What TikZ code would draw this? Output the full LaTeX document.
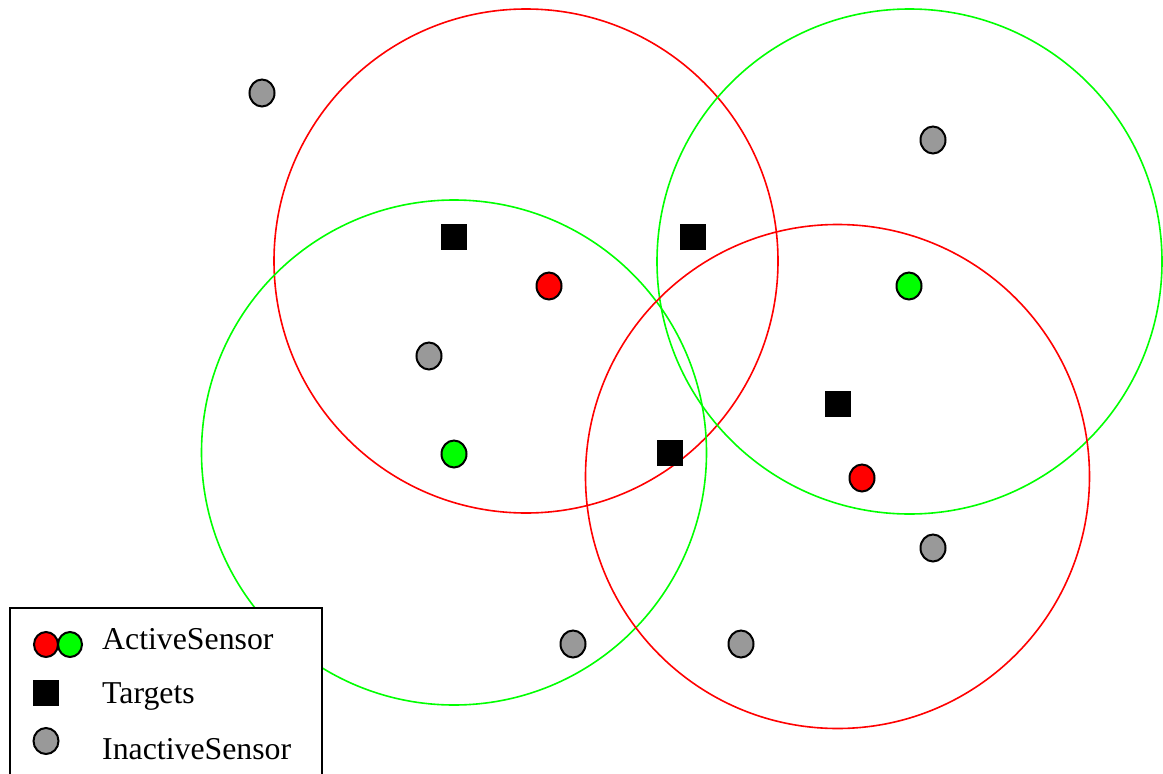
\documentclass[tikz,border=0pt]{standalone}
\usepackage{fontspec}
\setmainfont{Liberation Serif}
\usetikzlibrary{shapes.geometric}
\definecolor{sred}{RGB}{255,0,0}
\definecolor{sgreen}{RGB}{0,255,0}
\definecolor{sgray}{RGB}{153,153,153}
\begin{document}
\begin{tikzpicture}[x=1pt,y=-1pt,
  sensor/.style={ellipse,draw=black,line width=2pt,minimum width=25pt,minimum height=27pt,inner sep=0pt},
  target/.style={rectangle,fill=black,minimum size=26pt,inner sep=0pt},
  coverage/.style={line width=1.6pt},
  legtext/.style={anchor=base west,inner sep=0pt,font=\fontsize{31.8}{38}\selectfont}]
\useasboundingbox (0,0) rectangle (1163,774);
% coverage circles
\draw[coverage,sred] (526,261) circle (252);
\draw[coverage,sgreen] (909.5,261.5) circle (252.5);
\draw[coverage,sgreen] (454,452.5) circle (252.5);
\draw[coverage,sred] (837.5,476.5) circle (252);
% targets
\node[target] (t1) at (454,237) {};
\node[target] (t2) at (693,237) {};
\node[target] (t3) at (838,404) {};
\node[target] (t4) at (670,453) {};
% active sensors
\node[sensor,fill=sred] (a1) at (549,286) {};
\node[sensor,fill=sred] (a2) at (862,478) {};
\node[sensor,fill=sgreen] (a3) at (909,286) {};
\node[sensor,fill=sgreen] (a4) at (454,454) {};
% inactive sensors
\node[sensor,fill=sgray] (i1) at (262,93) {};
\node[sensor,fill=sgray] (i2) at (933,140) {};
\node[sensor,fill=sgray] (i3) at (429,356) {};
\node[sensor,fill=sgray] (i4) at (933,548) {};
\node[sensor,fill=sgray] (i5) at (573,644) {};
\node[sensor,fill=sgray] (i6) at (741,644) {};
% legend
\fill[white] (10,608) rectangle (322,780);
\draw[line width=2pt] (10,780) -- (10,608) -- (322,608) -- (322,780);
\node[sensor,fill=sred,minimum width=24pt,minimum height=25pt] (la) at (46,644.5) {};
\node[sensor,fill=sgreen,minimum width=24pt,minimum height=25pt] (lb) at (70,644.5) {};
\node[target] (lt) at (46,693) {};
\node[sensor,fill=sgray,minimum width=25pt,minimum height=26pt] (lg) at (46,741) {};
\node[legtext] (x1) at (102,649) {ActiveSensor};
\node[legtext] (x2) at (102,703) {Targets};
\node[legtext] (x3) at (102,759) {InactiveSensor};
\end{tikzpicture}
\end{document}
